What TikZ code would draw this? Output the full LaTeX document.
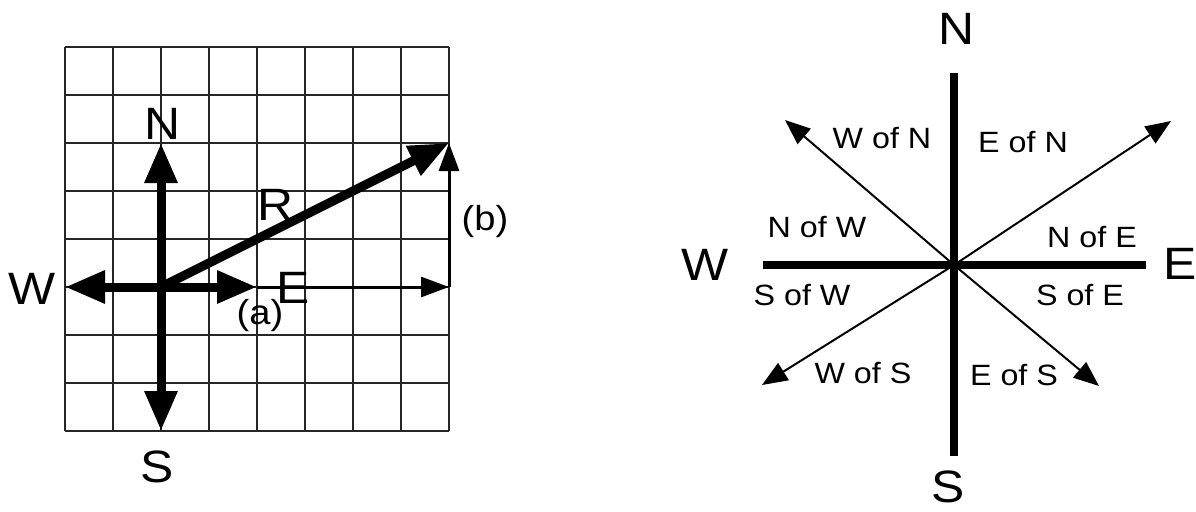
\documentclass[tikz,border=0pt]{standalone}
\usepackage{fontspec}
\setmainfont{Liberation Sans}[FakeStretch=1.1]
\usetikzlibrary{arrows.meta}
\tikzset{
  big/.style={font=\fontsize{34}{40}\selectfont, inner sep=0pt, anchor=center},
  small/.style={font=\fontsize{22}{26}\selectfont, inner sep=0pt, anchor=center},
  mid/.style={font=\fontsize{26}{30}\selectfont, inner sep=0pt, anchor=center},
  gridline/.style={line width=0.8pt, draw=black!85},
  thickarr/.style={line width=6.75pt, -{Triangle[length=30pt,width=23.25pt]}},
  thinarr/.style={line width=2.25pt, -{Triangle[length=21pt,width=15pt]}},
  thickline/.style={line width=5.6pt},
  rayarr/.style={line width=1.5pt, -{Triangle[length=19pt,width=15pt]}},
}
\begin{document}
\begin{tikzpicture}[x=0.75pt,y=-0.75pt]
\useasboundingbox (0,0) rectangle (1196,511);
% ---------- left: grid ----------
\foreach \i in {0,...,8} {
  \draw[gridline] (65+48*\i,47) -- (65+48*\i,431);
  \draw[gridline] (65,47+48*\i) -- (449,47+48*\i);
}
\coordinate (O) at (161,287);
\coordinate (Ntip) at (161,143);
\coordinate (Stip) at (161,431);
\coordinate (Wtip) at (65,287);
\coordinate (Etip) at (257,287);
\coordinate (Rtip) at (449,143);
\coordinate (Bc) at (449,287);
\draw[thinarr] (Etip) -- (Bc);
\draw[thinarr] (Bc) -- (Rtip);
\draw[thickarr] (O) -- (Ntip);
\draw[thickarr] (O) -- (Stip);
\draw[thickarr] (O) -- (Wtip);
\draw[thickarr] (O) -- (Etip);
\draw[thickarr] (O) -- (Rtip);
\node[big] (lN) at (163,124) {N};
\node[big] (lS) at (157,467) {S};
\node[big] (lW) at (32,289) {W};
\node[big] (lE) at (293,288) {E};
\node[big] (lR) at (276,205) {R};
\node[mid] (la) at (260,316) {(a)};
\node[mid] (lb) at (485,222) {(b)};
% ---------- right: compass ----------
\coordinate (C) at (954,265);
\coordinate (Ntop) at (954,73);
\coordinate (Sbot) at (954,456);
\coordinate (Wend) at (763,265);
\coordinate (Eend) at (1146,265);
\coordinate (NE) at (1171,121);
\coordinate (NW) at (785,120);
\coordinate (SW) at (762,385);
\coordinate (SE) at (1099,386);
\draw[rayarr] (C) -- (NE);
\draw[rayarr] (C) -- (NW);
\draw[rayarr] (C) -- (SW);
\draw[rayarr] (C) -- (SE);
\draw[thickline] (Ntop) -- (Sbot);
\draw[thickline] (Wend) -- (Eend);
\node[big] (rN) at (956,29) {N};
\node[big] (rS) at (948,487) {S};
\node[big] (rW) at (705,265) {W};
\node[big] (rE) at (1180,264) {E};
\node[small] (wn) at (882,138) {W of N};
\node[small] (en) at (1023,142) {E of N};
\node[small] (nw) at (817,227) {N of W};
\node[small] (ne) at (1092,237) {N of E};
\node[small] (sw) at (802,295) {S of W};
\node[small] (se) at (1080,295) {S of E};
\node[small] (ws) at (863,373) {W of S};
\node[small] (es) at (1014,375) {E of S};
\end{tikzpicture}
\end{document}
